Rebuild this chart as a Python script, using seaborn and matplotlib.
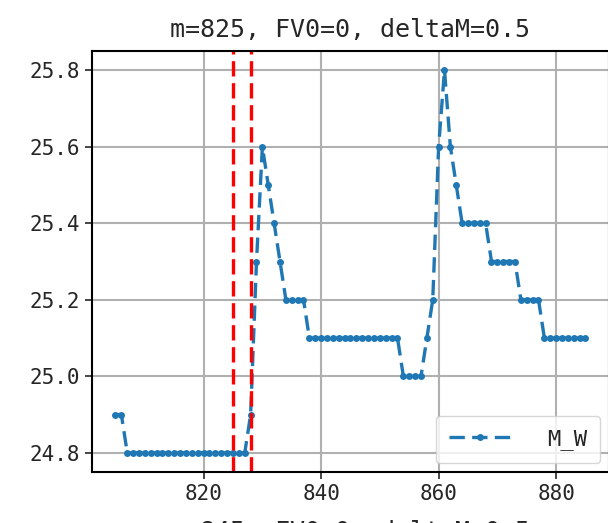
import matplotlib
matplotlib.use("Agg")
import matplotlib.pyplot as plt
import seaborn as sns

# m values and the M_W series
m_values = list(range(805, 886))
m_w = (
    [24.9, 24.9]
    + [24.8] * 21            # 807 - 827
    + [24.9, 25.3, 25.6, 25.5, 25.4, 25.3]   # 828 - 833
    + [25.2] * 4             # 834 - 837
    + [25.1] * 16            # 838 - 853
    + [25.0] * 4             # 854 - 857
    + [25.1, 25.2, 25.6, 25.8, 25.6, 25.5]   # 858 - 863
    + [25.4] * 5             # 864 - 868
    + [25.3] * 5             # 869 - 873
    + [25.2] * 4             # 874 - 877
    + [25.1] * 8             # 878 - 885
)
marker_lines = [825, 828]
y_ticks = [24.8, 25.0, 25.2, 25.4, 25.6, 25.8]
x_ticks = [820, 840, 860, 880]
title = "m=825, FV0=0, deltaM=0.5"
next_title = "m=845, FV0=0, deltaM=0.5"

sns.set_style("ticks")
plt.rcParams["font.family"] = ["DejaVu Sans Mono", "DejaVu Sans"]
plt.rcParams["font.size"] = 15

fig = plt.figure(figsize=(6.08, 5.23), dpi=100)
ax = fig.add_axes([92 / 608, (523 - 472) / 523, 517 / 608, 421 / 523])

sns.lineplot(x=m_values, y=m_w, ax=ax, marker="o", linestyle="--",
             color="#1f77b4", linewidth=2.4, markersize=5,
             markeredgecolor="#1f77b4", markeredgewidth=0, label="M_W")
ax.lines[0].set_dashes([4.6, 2.2])

for m in marker_lines:
    ax.axvline(m, color="red", linestyle=(0, (4.6, 2.0)), linewidth=2.4)

ax.set_xticks(x_ticks)
ax.set_yticks(y_ticks)
ax.set_yticklabels([f"{v:.1f}" for v in y_ticks])
ax.tick_params(labelsize=15, direction="out", length=5, width=1.2)
ax.grid(True, color="#b0b0b0", linewidth=1.5)
for s in ax.spines.values():
    s.set_linewidth(1.5)
    s.set_color("black")

ax.set_title(title, fontsize=18, pad=10)
leg = ax.legend(loc="lower right", fontsize=16, handlelength=2.8,
                handletextpad=1.6, borderpad=0.6, borderaxespad=0.4)
leg.get_lines()[0].set_dashes([4.6, 2.2])

# title of the subplot below, cropped by the figure edge
fig.text(350 / 608, 3 / 523, next_title, ha="center", va="top", fontsize=18)

fig.savefig("out.png", dpi=100)
